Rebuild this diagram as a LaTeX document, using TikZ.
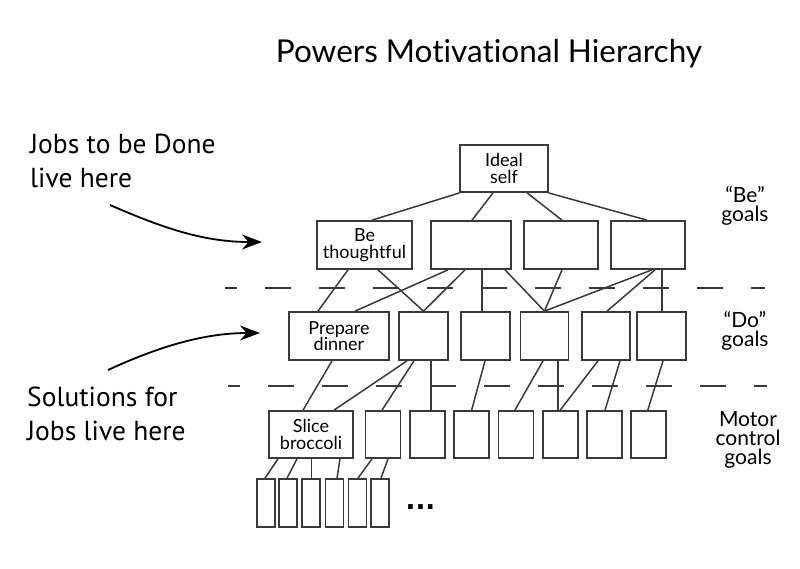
\documentclass[tikz,border=0pt]{standalone}
\usepackage{fontspec}
\setmainfont{Lato}[Ligatures={TeX,NoCommon}]
\newfontfamily\leftfont{PT Sans}
\newfontfamily\dotfont{DejaVu Sans}
\usetikzlibrary{arrows.meta}
\definecolor{boxgray}{HTML}{3A3A3A}
\begin{document}
\begin{tikzpicture}[x=1pt,y=-1pt,
  box/.style={draw=boxgray, line width=1.7pt, inner sep=0pt, align=center,
    font=\fontsize{18}{16.5}\selectfont},
  link/.style={draw=boxgray, line width=1.5pt},
  sepline/.style={draw=boxgray, line width=1.8pt, dash pattern=on 26pt off 28pt, dash phase=14pt},
  callout/.style={-{Stealth[length=20pt,width=15pt]}, line width=1.8pt, black},
  lefttext/.style={font=\leftfont\fontsize{27.5}{34}\selectfont, align=left, anchor=base west, inner sep=0pt},
  goaltext/.style={font=\fontsize{21}{19}\selectfont, align=center, inner sep=0pt},
  l1/.style={box, minimum height=48pt},
  l2/.style={box, minimum height=48pt},
  l3/.style={box, minimum height=47pt, minimum width=35pt},
  l4/.style={box, minimum height=48pt, minimum width=18pt}]
\useasboundingbox[fill=white] (0,0) rectangle (800,568);

% title
\node[font=\fontsize{31.5}{36}\selectfont, anchor=base, inner sep=0pt] (title) at (489,62) {Powers Motivational Hierarchy};

% top
\node[box, minimum width=88pt, minimum height=47pt] (ideal) at (504,168.5) {Ideal\\self};

% level 1
\node[l1, minimum width=95pt] (bt) at (364.5,245) {Be\\thoughtful};
\node[l1, minimum width=80pt] (b2) at (471,245) {};
\node[l1, minimum width=74pt] (b3) at (561,245) {};
\node[l1, minimum width=74pt] (b4) at (648,245) {};

% level 2
\node[l2, minimum width=100pt] (pd) at (339,336) {Prepare\\dinner};
\node[l2, minimum width=49pt] (d2) at (423.5,336) {};
\node[l2, minimum width=49pt] (d3) at (485.5,336) {};
\node[l2, minimum width=48pt] (d4) at (544.5,336) {};
\node[l2, minimum width=48pt] (d5) at (606,336) {};
\node[l2, minimum width=49pt] (d6) at (661.5,336) {};

% level 3
\node[l3, minimum width=84pt] (sb) at (311,434.5) {Slice\\broccoli};
\node[l3] (m2) at (383,434.5) {};
\node[l3] (m3) at (427.3,434.5) {};
\node[l3] (m4) at (471.6,434.5) {};
\node[l3] (m5) at (515.9,434.5) {};
\node[l3] (m6) at (560.2,434.5) {};
\node[l3] (m7) at (604.5,434.5) {};
\node[l3] (m8) at (648.8,434.5) {};

% level 4
\node[l4] (n1) at (266,503) {};
\node[l4] (n2) at (288,503) {};
\node[l4] (n3) at (311,503) {};
\node[l4] (n4) at (334.5,503) {};
\node[l4] (n5) at (357.5,503) {};
\node[l4] (n6) at (380,503) {};
\node[font=\dotfont\bfseries\fontsize{26}{30}\selectfont, anchor=base, inner sep=0pt] (dots) at (420.5,509) {...};

% separators
\draw[sepline] (225,288) -- (765,288);
\draw[sepline] (228,386) -- (767,386);

% ideal -> level 1
\draw[link] ([xshift=0.5pt]ideal.south west) -- ([xshift=7.5pt]bt.north);
\draw[link] ([xshift=-11pt]ideal.south) -- ([xshift=1pt]b2.north);
\draw[link] ([xshift=23pt]ideal.south) -- ([xshift=1pt]b3.north);
\draw[link] ([xshift=-0.5pt]ideal.south east) -- ([xshift=-1pt]b4.north);

% level 1 -> level 2
\draw[link] ([xshift=-16.5pt]bt.south) -- ([xshift=-21pt]pd.north);
\draw[link] ([xshift=13.5pt]bt.south) -- (d2.north);
\draw[link] ([xshift=-23pt]b2.south) -- ([xshift=16pt]pd.north);
\draw[link] ([xshift=-6pt]b2.south) -- (d2.north);
\draw[link] ([xshift=11pt]b2.south) -- ([xshift=-3.5pt]d3.north);
\draw[link] ([xshift=34pt]b2.south) -- (d4.north);
\draw[link] ([xshift=1pt]b3.south) -- (d4.north);
\draw[link] ([xshift=4pt]b4.south) -- (d4.north);
\draw[link] ([xshift=7pt]b4.south) -- ([xshift=1pt]d5.north);
\draw[link] ([xshift=14pt]b4.south) -- ([xshift=0.5pt]d6.north);

% level 2 -> level 3
\draw[link] ([xshift=-7pt]pd.south) -- ([xshift=-8pt]sb.north);
\draw[link] ([xshift=-16.5pt]d2.south) -- ([xshift=23pt]sb.north);
\draw[link] ([xshift=-9.5pt]d2.south) -- ([xshift=-1pt]m2.north);
\draw[link] ([xshift=7.5pt]d2.south) -- ([xshift=3.7pt]m3.north);
\draw[link] ([xshift=-0.5pt]d3.south) -- (m4.north);
\draw[link] ([xshift=-1.5pt]d4.south) -- ([xshift=-1pt]m5.north);
\draw[link] ([xshift=13.5pt]d4.south) -- ([xshift=-2.2pt]m6.north);
\draw[link] ([xshift=-8pt]d5.south) -- (m6.north);
\draw[link] ([xshift=14pt]d5.south) -- ([xshift=0.5pt]m7.north);
\draw[link] ([xshift=1.5pt]d6.south) -- ([xshift=-1pt]m8.north);

% level 3 -> level 4
\draw[link] ([xshift=-33pt]sb.south) -- ([xshift=-1pt]n1.north);
\draw[link] ([xshift=-14pt]sb.south) -- ([xshift=-1pt]n2.north);
\draw[link] ([xshift=0.5pt]sb.south) -- ([xshift=0.5pt]n3.north);
\draw[link] ([xshift=29pt]sb.south) -- ([xshift=2.5pt]n4.north);
\draw[link] ([xshift=-11pt]m2.south) -- ([xshift=0.5pt]n5.north);
\draw[link] ([xshift=5pt]m2.south) -- ([xshift=1pt]n6.north);

% right labels
\node[goaltext] (begoals) at (745,206) {“Be”\\goals};
\node[goaltext] (dogoals) at (745,331) {“Do”\\goals};
\node[goaltext] (motorgoals) at (748,440) {Motor\\control\\goals};

% left callouts (base = baseline of last line)
\node[lefttext] (jobs) at (30,187) {Jobs to be Done\\live here};
\node[lefttext] (sols) at (27,440) {Solutions for\\Jobs live here};
\coordinate (a1s) at (110,205);
\coordinate (a1e) at (262,242);
\coordinate (a2s) at (108,370);
\coordinate (a2e) at (260,333);
\draw[callout] (a1s) .. controls (165,229) and (205,242) .. (a1e);
\draw[callout] (a2s) .. controls (160,346) and (205,333) .. (a2e);
\end{tikzpicture}
\end{document}
